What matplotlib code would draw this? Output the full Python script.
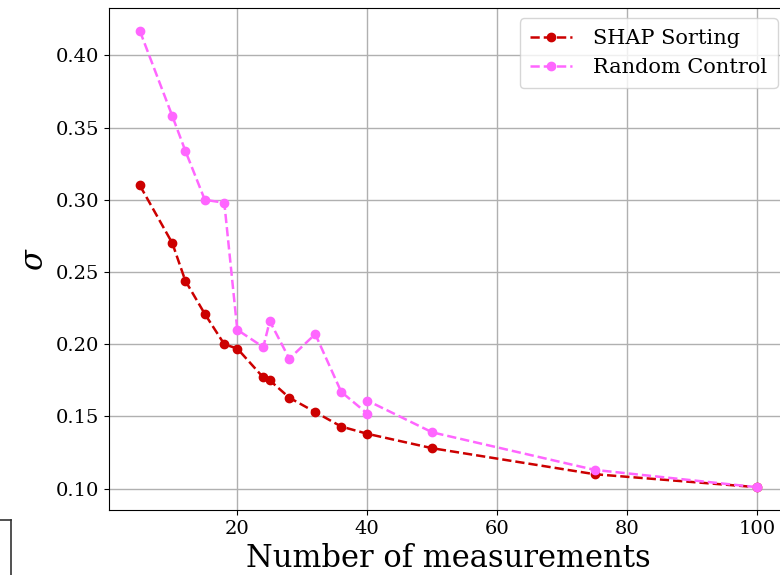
import matplotlib
matplotlib.use("Agg")
import matplotlib.pyplot as plt
from matplotlib.lines import Line2D

plt.rcParams["font.family"] = "DejaVu Serif"
plt.rcParams["mathtext.fontset"] = "dejavuserif"

# measurement counts and resulting sigma
n_shap = [5, 10, 12, 15, 18, 20, 24, 25, 28, 32, 36, 40, 50, 75, 100]
sigma_shap = [0.310, 0.270, 0.244, 0.221, 0.200, 0.197, 0.177, 0.175,
              0.163, 0.153, 0.143, 0.138, 0.128, 0.110, 0.101]

n_random = [5, 10, 12, 15, 18, 20, 24, 25, 28, 32, 36, 40, 40, 50, 75, 100]
sigma_random = [0.417, 0.358, 0.334, 0.300, 0.298, 0.210, 0.198, 0.216,
                0.190, 0.207, 0.167, 0.152, 0.161, 0.139, 0.113, 0.101]

fig = plt.figure(figsize=(7.8, 5.75), dpi=100)
ax = fig.add_axes([0.1397, 0.113, 0.8705, 0.873])

ax.plot(n_shap, sigma_shap, "o--", color="#cc0000", markersize=6,
        linewidth=1.8, label="SHAP Sorting", zorder=3)
ax.plot(n_random, sigma_random, "o--", color="#ff66ff", markersize=6,
        linewidth=1.8, label="Random Control", zorder=3)

ax.grid(True, color="#b0b0b0", linewidth=1.0)
ax.set_axisbelow(True)
ax.tick_params(labelsize=14)
ax.set_xlabel("Number of measurements", fontsize=22)
ax.set_ylabel(r"$\sigma$", fontsize=22)
ax.legend(loc="upper right", fontsize=15, borderpad=0.5, handletextpad=1.0)

# frame edge of the neighbouring panel
fig.add_artist(Line2D([0.0, 0.0141], [0.0957, 0.0957], color="#333333",
                      linewidth=1.2, transform=fig.transFigure))
fig.add_artist(Line2D([0.0141, 0.0141], [0.0957, 0.0], color="#333333",
                      linewidth=1.2, transform=fig.transFigure))

fig.savefig("out.png", dpi=100)
